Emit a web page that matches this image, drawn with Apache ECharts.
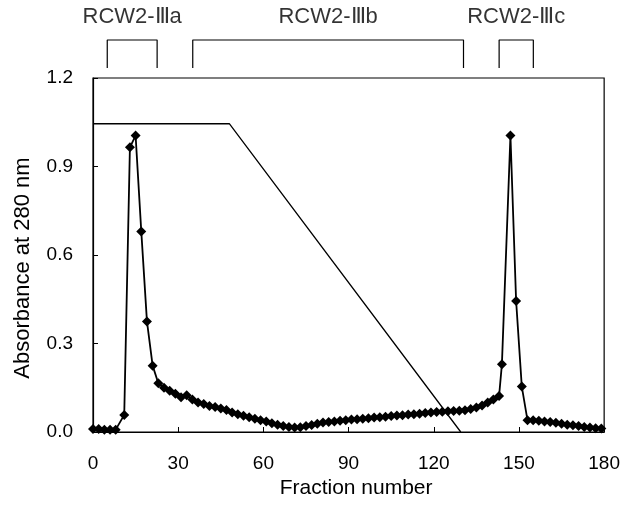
<!DOCTYPE html>
<html lang="en">
<head>
    <meta charset="UTF-8">
    <title>Absorbance</title>
    <script src="https://cdn.jsdelivr.net/npm/echarts@6/dist/echarts.min.js"></script>
</head>
<style>
    body{
        margin: 0;
        padding: 0;
        background: #fff;
    }
</style>
<body>
<div id="main" style="width: 623px;height:505px;"></div>
<script>
    // fraction number of each measured point
    var fractions = [0, 2, 4, 6, 8, 11, 13, 15, 17, 19, 21, 23, 25, 27, 29, 31, 33, 35, 37, 39,
        41, 43, 45, 47, 49, 51, 53, 55, 57, 59, 61, 63, 65, 67, 69, 71, 73, 75, 77, 79,
        81, 83, 85, 87, 89, 91, 93, 95, 97, 99, 101, 103, 105, 107, 109, 111, 113, 115, 117, 119,
        121, 123, 125, 127, 129, 131, 133, 135, 137, 139, 141, 143, 144, 147, 149, 151, 153, 155, 157, 159,
        161, 163, 165, 167, 169, 171, 173, 175, 177, 179];
    // absorbance at 280 nm
    var absorbance = [0.010, 0.010, 0.008, 0.008, 0.008, 0.058, 0.965, 1.005, 0.680, 0.375, 0.225, 0.165, 0.150, 0.140, 0.130, 0.118, 0.125, 0.110, 0.100, 0.095,
        0.088, 0.085, 0.080, 0.075, 0.066, 0.060, 0.055, 0.050, 0.045, 0.040, 0.036, 0.030, 0.025, 0.020, 0.017, 0.015, 0.016, 0.020, 0.024, 0.028,
        0.032, 0.034, 0.036, 0.038, 0.040, 0.042, 0.043, 0.045, 0.047, 0.049, 0.050, 0.052, 0.054, 0.056, 0.057, 0.059, 0.060, 0.062, 0.064, 0.066,
        0.068, 0.069, 0.070, 0.071, 0.072, 0.074, 0.078, 0.083, 0.090, 0.100, 0.110, 0.122, 0.230, 1.005, 0.444, 0.154, 0.040, 0.040, 0.038, 0.036,
        0.034, 0.031, 0.028, 0.025, 0.023, 0.020, 0.017, 0.015, 0.013, 0.012];
    // salt gradient line
    var gradientX = [0, 48, 129.5];
    var gradientY = [1.045, 1.045, 0];
    // pooled fractions at the top
    var poolNames = ['RCW2-Ⅲa', 'RCW2-Ⅲb', 'RCW2-Ⅲc'];
    var poolStart = [5, 35, 142.5];
    var poolEnd = [22.5, 130, 154.5];
    var xTicks = [0, 30, 60, 90, 120, 150, 180];
    var yTicks = [0, 0.3, 0.6, 0.9, 1.2];

    var font = "'Liberation Sans', Arial, sans-serif";

    var absData = [];
    for (var i = 0; i < fractions.length; i++) {
        absData.push([fractions[i], absorbance[i]]);
    }
    var gradData = [];
    for (var j = 0; j < gradientX.length; j++) {
        gradData.push([gradientX[j], gradientY[j]]);
    }

    var poolSeries = [];
    var poolLabels = [];
    for (var k = 0; k < poolNames.length; k++) {
        poolSeries.push({
            type: 'line',
            xAxisIndex: 1,
            yAxisIndex: 1,
            symbol: 'none',
            silent: true,
            clip: false,
            lineStyle: {color: '#000', width: 1.2},
            data: [[poolStart[k], 0], [poolStart[k], 1], [poolEnd[k], 1], [poolEnd[k], 0]]
        });
        poolLabels.push({
            value: [(poolStart[k] + poolEnd[k]) / 2, 1],
            label: {formatter: poolNames[k]}
        });
    }
    poolSeries.push({
        type: 'scatter',
        xAxisIndex: 1,
        yAxisIndex: 1,
        symbolSize: 0,
        silent: true,
        clip: false,
        label: {
            show: true,
            position: 'top',
            distance: 12,
            color: '#000',
            fontSize: 22,
            fontFamily: font
        },
        data: poolLabels
    });

    var chart = echarts.init(document.getElementById('main'));
    var option = {
        backgroundColor: '#fff',
        animation: false,
        grid: [
            {left: 93, right: 17, top: 78, bottom: 73, show: true, borderColor: '#000', borderWidth: 1.2},
            {left: 93, right: 17, top: 40, height: 28}
        ],
        xAxis: [{
            type: 'value',
            min: 0,
            max: 180,
            interval: 30,
            name: 'Fraction number',
            nameLocation: 'middle',
            nameGap: 45,
            nameTextStyle: {color: '#000', fontSize: 21, fontFamily: font, padding: [0, 0, 0, 15]},
            axisLine: {lineStyle: {color: '#000', width: 1.2}},
            axisTick: {inside: true, length: 5, lineStyle: {color: '#000'}},
            axisLabel: {color: '#000', fontSize: 19, fontFamily: font, margin: 22,
                formatter: function (v) { return xTicks.indexOf(v) >= 0 ? v : ''; }},
            splitLine: {show: false}
        }, {
            type: 'value',
            gridIndex: 1,
            min: 0,
            max: 180,
            show: false
        }],
        yAxis: [{
            type: 'value',
            min: 0,
            max: 1.2,
            interval: 0.3,
            name: 'Absorbance at 280 nm',
            nameLocation: 'middle',
            nameGap: 59,
            nameTextStyle: {color: '#000', fontSize: 22, fontFamily: font, padding: [0, 26, 0, 0]},
            axisLine: {show: true, lineStyle: {color: '#000', width: 1.2}},
            axisTick: {show: true, inside: true, length: 5, lineStyle: {color: '#000'}},
            axisLabel: {color: '#000', fontSize: 19, fontFamily: font, margin: 20,
                formatter: function (v) { return yTicks.indexOf(+v.toFixed(1)) >= 0 ? v.toFixed(1) : ''; }},
            splitLine: {show: false}
        }, {
            type: 'value',
            gridIndex: 1,
            min: 0,
            max: 1,
            show: false
        }],
        series: [{
            name: 'gradient',
            type: 'line',
            symbol: 'none',
            silent: true,
            lineStyle: {color: '#000', width: 1.3},
            data: gradData
        }, {
            name: 'A280',
            type: 'line',
            symbol: 'diamond',
            symbolSize: 10,
            itemStyle: {color: '#000'},
            lineStyle: {color: '#000', width: 1.8},
            data: absData
        }].concat(poolSeries)
    };
    chart.setOption(option);
</script>
</body>
</html>
